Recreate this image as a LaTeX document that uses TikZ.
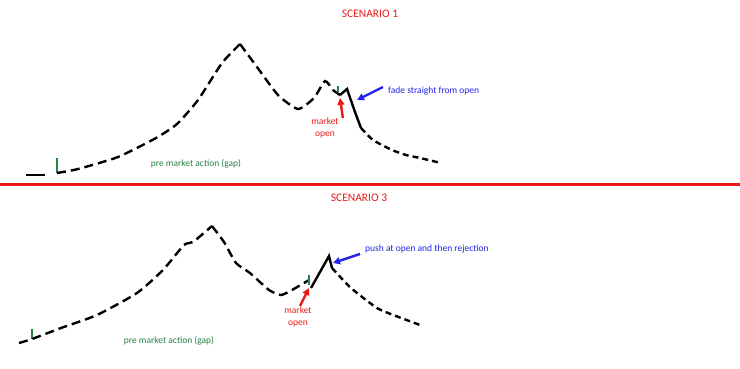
\documentclass[tikz,border=0pt]{standalone}
\usepackage{fontspec}
\setmainfont{Carlito}
\usetikzlibrary{arrows.meta,positioning}
\definecolor{sketchred}{RGB}{235,25,25}
\definecolor{sketchgreen}{RGB}{40,130,70}
\definecolor{sketchblue}{RGB}{35,35,235}
\tikzset{
  price/.style={line width=2.4pt, dash pattern=on 9pt off 5pt},
  tail/.style={line width=2.4pt, dash pattern=on 6pt off 4pt},
  openmove/.style={line width=2.4pt},
  tick/.style={sketchgreen, line width=1.6pt},
  pointer/.style={line width=2.4pt, -{Triangle[length=7pt,width=7pt]}},
  title/.style={text=sketchred, font=\fontsize{11.5}{13}\selectfont},
  note/.style={font=\fontsize{9.5}{11.5}\selectfont, inner sep=0pt, align=left},
}
\begin{document}
\begin{tikzpicture}[x=1pt, y=-1pt]
\useasboundingbox (0,0) rectangle (740,368);
% scenario 1
\node[title] (t1) at (370,14) {SCENARIO 1};
\draw[line width=2.4pt] (26,175) -- (45,175);
\draw[tick] (57,158) -- (57,173);
\draw[price] plot[smooth, tension=0.35] coordinates {(57,173) (78,169) (118,157) (156,138) (177,124) (198,100) (222,63) (240,44)};
\draw[price] plot[smooth, tension=0.35] coordinates {(240,44) (257,67) (278,95) (298,109) (314,98) (325,81) (333,90) (340,95)};
\draw[tick] (338,86) -- (338,92);
\draw[openmove] (340,95) -- (347,89) -- (355,112) -- (361,128);
\draw[tail] plot[smooth, tension=0.35] coordinates {(361,128) (373,140) (392,150) (406,155) (420,158) (441,163)};
\node[note, text=sketchgreen] (pm1) at (196,164) {pre market action (gap)};
\node[note, text=sketchred, align=center] (mo1) at (325,128) {market\\open};
\node[note, text=sketchblue, anchor=west] (fd1) at (388,91) {fade straight from open};
\coordinate (o1) at (340,98);
\coordinate (f1) at (357,100);
\draw[pointer, sketchred] (mo1.north east) ++(4,0) -- (o1);
\draw[pointer, sketchblue] (fd1.west) ++(-5,-4) -- (f1);
% divider
\draw[sketchred, line width=3pt] (0,184) -- (740,184);
% scenario 3
\node[title] (t3) at (359,198) {SCENARIO 3};
\draw[tick] (32,329) -- (32,339);
\draw[price] plot[smooth, tension=0.35] coordinates {(19,343) (32,339) (61,328) (97,315) (137,293) (163,270) (184,245) (193,242) (212,226)};
\draw[price] plot[smooth, tension=0.35] coordinates {(212,226) (224,242) (236,263) (250,273) (269,290) (281,295) (292,290) (309,280)};
\draw[tick] (309,275) -- (309,285);
\draw[openmove] (311,288) -- (329,256) -- (332,268);
\draw[tail] plot[smooth, tension=0.35] coordinates {(332,268) (351,288) (377,308) (396,316) (420,325)};
\node[note, text=sketchgreen] (pm3) at (169,341) {pre market action (gap)};
\node[note, text=sketchred, align=center] (mo3) at (298,317) {market\\open};
\node[note, text=sketchblue, anchor=west] (ps3) at (365,249) {push at open and then rejection};
\coordinate (o3) at (309,288);
\coordinate (p3) at (333,263);
\draw[pointer, sketchred] (mo3.north) ++(2,-1) -- (o3);
\draw[pointer, sketchblue] (ps3.west) ++(-5,5) -- (p3);
\end{tikzpicture}
\end{document}
